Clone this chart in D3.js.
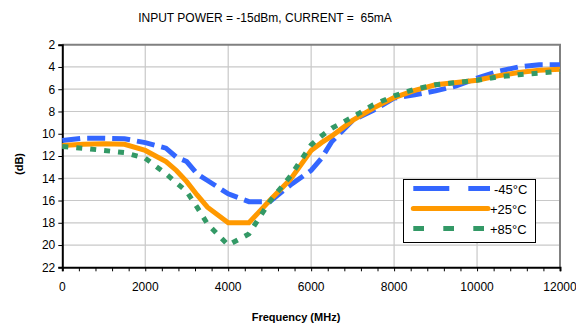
<!DOCTYPE html>
<html><head><meta charset="utf-8">
<script src="https://cdn.jsdelivr.net/npm/d3@7"></script>
<style>
body{margin:0;background:#fff;}
svg{display:block;font-family:"Liberation Sans",Arial,sans-serif;}
</style></head>
<body>
<svg id="c" width="576" height="326"></svg>
<script>
const freqs = [0,500,1000,1500,2000,2500,2750,3000,3250,3500,4000,4500,5000,5500,6000,6250,6500,7000,7500,8000,8500,9000,9500,10000,10500,11000,11500,12000];
const m45 = [10.6,10.4,10.4,10.45,10.8,11.3,12.1,12.5,13.6,14.2,15.4,16.1,16.1,14.6,13.3,12.2,10.7,8.8,7.9,6.8,6.5,6.15,5.7,5.0,4.4,4.0,3.8,3.8];
const p25 = [11.05,10.95,10.9,10.95,11.5,12.5,13.3,14.3,15.5,16.6,18.0,18.0,16.0,14.1,11.5,10.8,10.2,8.8,7.7,6.75,6.1,5.6,5.4,5.2,4.8,4.5,4.3,4.2];
const p85 = [11.15,11.3,11.5,11.7,12.2,13.6,14.4,15.2,16.6,18.1,20.0,19.0,16.1,13.8,11.0,10.2,9.5,8.5,7.4,6.6,6.0,5.6,5.4,5.2,4.9,4.7,4.55,4.4];
const seriesNames = ["-45°C","+25°C","+85°C"];
const seriesColors = ["#3366ff","#ff9900","#339966"];
const xTicks = [0,2000,4000,6000,8000,10000,12000];
const yTicks = [2,4,6,8,10,12,14,16,18,20,22];
const titleText = "INPUT POWER = -15dBm, CURRENT =  65mA";

const svg = d3.select("#c");
const L = 62.3, R = 560, T = 44.7, B = 267.3;
const x = d3.scaleLinear().domain([0,12000]).range([L,R]);
const y = d3.scaleLinear().domain([2,22]).range([T,B]);

// grid
svg.append("g").selectAll("line").data(yTicks.slice(1,-1)).join("line")
  .attr("x1",L).attr("x2",R).attr("y1",d=>y(d)).attr("y2",d=>y(d))
  .attr("stroke","#c8c8c8").attr("stroke-width",1.2);
svg.append("g").selectAll("line").data(xTicks.slice(1,-1)).join("line")
  .attr("y1",T).attr("y2",B).attr("x1",d=>x(d)).attr("x2",d=>x(d))
  .attr("stroke","#c8c8c8").attr("stroke-width",1.2);

// frame top/right
svg.append("path").attr("d",`M${L},${T}H${R}V${B}`).attr("fill","none")
  .attr("stroke","#808080").attr("stroke-width",2);

// axes
const xAxis = d3.axisBottom(x).tickValues(d3.range(0,12001,400)).tickSize(4).tickFormat("");
const gx = svg.append("g").attr("transform",`translate(0,${B})`).call(xAxis);
gx.select(".domain").attr("stroke","#000").attr("stroke-width",2);
gx.selectAll(".tick line").attr("stroke","#000").attr("stroke-width",1);
svg.append("g").selectAll("text").data(xTicks).join("text")
  .attr("x",d=>x(d)).attr("y",B+24).attr("text-anchor","middle")
  .attr("font-size",12).attr("fill","#000").text(d=>d);

const yAxis = d3.axisLeft(y).tickValues(yTicks).tickSize(4).tickFormat(d=>d);
const gy = svg.append("g").attr("transform",`translate(${L},0)`).call(yAxis);
gy.select(".domain").attr("stroke","#000").attr("stroke-width",2);
gy.selectAll(".tick line").attr("stroke","#000").attr("stroke-width",1);
gy.selectAll(".tick text").attr("font-size",12).attr("fill","#000")
  .attr("font-family","'Liberation Sans',Arial,sans-serif").attr("x",-7);

// lines
const line = vals => d3.line().x((d,i)=>x(freqs[i])).y(d=>y(d))(vals);
const dashes = ["18,7",null,"6,8"];
[m45,p25,p85].forEach((vals,i)=>{
  svg.append("path").attr("d",line(vals)).attr("fill","none")
    .attr("stroke",seriesColors[i]).attr("stroke-width",5)
    .attr("stroke-dasharray",dashes[i]).attr("stroke-linejoin","miter");
});

// title & axis labels
svg.append("text").attr("x",265).attr("y",22).attr("text-anchor","middle")
  .attr("font-size",12).style("white-space","pre").text(titleText);
svg.append("text").attr("x",296).attr("y",321).attr("text-anchor","middle")
  .attr("font-size",11).attr("font-weight","bold").text("Frequency (MHz)");
svg.append("text").attr("transform","translate(23,164) rotate(-90)").attr("text-anchor","middle")
  .attr("font-size",11).attr("font-weight","bold").text("(dB)");

// legend
const lg = svg.append("g");
lg.append("rect").attr("x",403.5).attr("y",179.5).attr("width",132).attr("height",63)
  .attr("fill","#fff").attr("stroke","#000").attr("stroke-width",1);
const legDash = ["36,19",null,"10.7,19.3"];
const legY = [188.5,208.5,228.5];
seriesNames.forEach((n,i)=>{
  lg.append("line").attr("x1",413.3).attr("x2",i===1?488:490).attr("y1",legY[i]).attr("y2",legY[i])
    .attr("stroke",seriesColors[i]).attr("stroke-width",5)
    .attr("stroke-dasharray",legDash[i]).attr("stroke-linecap",i===1?"round":"butt");
  lg.append("text").attr("x",i===0?494:490).attr("y",legY[i]+5).attr("font-size",13).text(n);
});
</script>
</body></html>
